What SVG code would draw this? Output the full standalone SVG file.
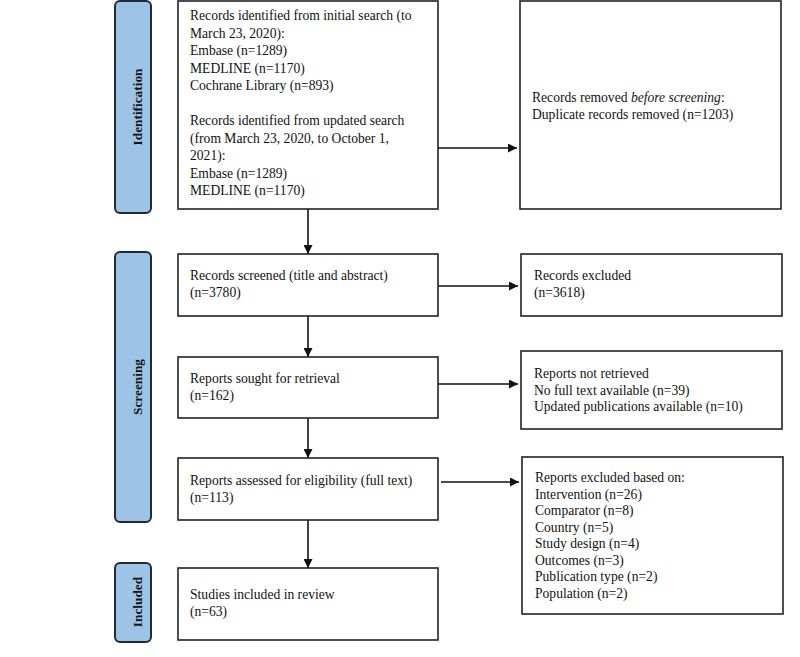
<svg xmlns="http://www.w3.org/2000/svg" width="800" height="657" viewBox="0 0 800 657">
<style>
.box{fill:#fff;stroke:#222;stroke-width:1.6}
.side{fill:#9dc3e6;stroke:#1f2a38;stroke-width:2}
.t{font-family:"Liberation Serif","Times New Roman",serif;font-size:13.6px;fill:#111}
.s{font-family:"Liberation Serif","Times New Roman",serif;font-size:13.3px;font-weight:bold;fill:#111}
.c{stroke:#111;stroke-width:1.6;fill:none}
</style>
<defs>
<marker id="ah" viewBox="0 0 10 10" refX="10" refY="5" markerWidth="9" markerHeight="9" markerUnits="userSpaceOnUse" orient="auto">
<path d="M0,0 L10,5 L0,10 z" fill="#111"/>
</marker>
</defs>
<rect width="800" height="657" fill="#fff"/>
<g id="side-identification">
<rect class="side" x="115" y="1" width="36" height="212" rx="5"/>
<text class="s" transform="translate(137,107) rotate(-90)" text-anchor="middle" dominant-baseline="central">Identification</text>
</g>
<g id="side-screening">
<rect class="side" x="115" y="252" width="36" height="270" rx="5"/>
<text class="s" transform="translate(137,387) rotate(-90)" text-anchor="middle" dominant-baseline="central">Screening</text>
</g>
<g id="side-included">
<rect class="side" x="115" y="563" width="36" height="79" rx="5"/>
<text class="s" transform="translate(137,602) rotate(-90)" text-anchor="middle" dominant-baseline="central">Included</text>
</g>
<g id="connectors">
<line class="c" x1="438" y1="148" x2="517" y2="148" marker-end="url(#ah)"/>
<line class="c" x1="308" y1="209" x2="308" y2="254" marker-end="url(#ah)"/>
<line class="c" x1="438" y1="286" x2="518" y2="286" marker-end="url(#ah)"/>
<line class="c" x1="308" y1="316" x2="308" y2="357" marker-end="url(#ah)"/>
<line class="c" x1="438" y1="384" x2="518" y2="384" marker-end="url(#ah)"/>
<line class="c" x1="308" y1="418" x2="308" y2="458" marker-end="url(#ah)"/>
<line class="c" x1="441" y1="482" x2="519" y2="482" marker-end="url(#ah)"/>
<line class="c" x1="308" y1="520" x2="308" y2="568" marker-end="url(#ah)"/>
</g>
<g id="records-identified">
<rect class="box" x="178" y="1" width="260" height="208"/>
<text class="t" x="190" y="20">Records identified from initial search (to</text>
<text class="t" x="190" y="37.5">March 23, 2020):</text>
<text class="t" x="190" y="55">Embase (n=1289)</text>
<text class="t" x="190" y="72.5">MEDLINE (n=1170)</text>
<text class="t" x="190" y="90">Cochrane Library (n=893)</text>
<text class="t" x="190" y="125">Records identified from updated search</text>
<text class="t" x="190" y="142.5">(from March 23, 2020, to October 1,</text>
<text class="t" x="190" y="160">2021):</text>
<text class="t" x="190" y="177.5">Embase (n=1289)</text>
<text class="t" x="190" y="195">MEDLINE (n=1170)</text>
</g>
<g id="records-removed">
<rect class="box" x="520" y="1" width="261" height="208"/>
<text class="t" x="532" y="101.5">Records removed <tspan font-style="italic">before screening</tspan>:</text>
<text class="t" x="532" y="118.5">Duplicate records removed (n=1203)</text>
</g>
<g id="records-screened">
<rect class="box" x="178" y="254" width="260" height="62"/>
<text class="t" x="190" y="280">Records screened (title and abstract)</text>
<text class="t" x="190" y="297">(n=3780)</text>
</g>
<g id="records-excluded">
<rect class="box" x="521" y="254" width="261" height="62"/>
<text class="t" x="534" y="280">Records excluded</text>
<text class="t" x="534" y="297">(n=3618)</text>
</g>
<g id="reports-sought">
<rect class="box" x="178" y="357" width="260" height="61"/>
<text class="t" x="190" y="383">Reports sought for retrieval</text>
<text class="t" x="190" y="400">(n=162)</text>
</g>
<g id="reports-not-retrieved">
<rect class="box" x="521" y="351" width="261" height="78"/>
<text class="t" x="534" y="378">Reports not retrieved</text>
<text class="t" x="534" y="394.5">No full text available (n=39)</text>
<text class="t" x="534" y="411">Updated publications available (n=10)</text>
</g>
<g id="reports-assessed">
<rect class="box" x="178" y="458" width="260" height="62"/>
<text class="t" x="190" y="485">Reports assessed for eligibility (full text)</text>
<text class="t" x="190" y="502">(n=113)</text>
</g>
<g id="reports-excluded">
<rect class="box" x="522" y="457" width="261" height="157"/>
<text class="t" x="535" y="482">Reports excluded based on:</text>
<text class="t" x="535" y="498.5">Intervention (n=26)</text>
<text class="t" x="535" y="515">Comparator (n=8)</text>
<text class="t" x="535" y="531.5">Country (n=5)</text>
<text class="t" x="535" y="548">Study design (n=4)</text>
<text class="t" x="535" y="564.5">Outcomes (n=3)</text>
<text class="t" x="535" y="581">Publication type (n=2)</text>
<text class="t" x="535" y="597.5">Population (n=2)</text>
</g>
<g id="studies-included">
<rect class="box" x="178" y="568" width="260" height="72"/>
<text class="t" x="190" y="598.5">Studies included in review</text>
<text class="t" x="190" y="616">(n=63)</text>
</g>
</svg>
